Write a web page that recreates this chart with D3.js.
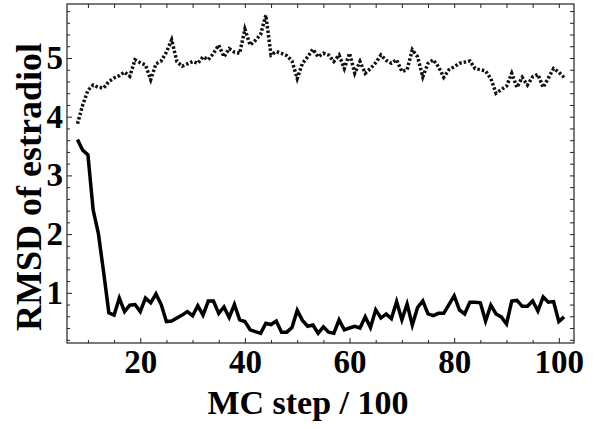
<!DOCTYPE html>
<html>
<head>
<meta charset="utf-8">
<script src="https://cdn.jsdelivr.net/npm/d3@7"></script>
<style>
  body { margin: 0; background: #fff; }
  text { font-family: "Liberation Serif", "Times New Roman", serif; font-weight: bold; }
</style>
</head>
<body>
<div class="chart"></div>
<script>
// MC steps (x / 100)
const steps = d3.range(8, 102);

// RMSD of the dotted series (upper curve)
const rmsdDotted = [
  3.88, 4.20, 4.45, 4.54, 4.50, 4.49, 4.60, 4.66, 4.70, 4.76,
  4.69, 4.97, 4.92, 4.88, 4.63, 4.90, 4.95, 5.10, 5.31, 4.94,
  4.86, 4.90, 4.94, 4.91, 5.02, 4.97, 5.08, 5.22, 5.02, 5.16,
  5.10, 5.08, 5.49, 5.22, 5.30, 5.40, 5.73, 5.05, 5.11, 5.08,
  5.04, 4.95, 4.65, 4.91, 5.02, 5.15, 5.02, 5.08, 5.05, 4.94,
  5.05, 4.82, 5.08, 4.74, 4.94, 4.74, 4.82, 4.92, 5.05, 4.96,
  4.91, 4.97, 4.77, 4.80, 5.14, 5.02, 4.68, 4.91, 4.97, 4.85,
  4.67, 4.80, 4.85, 4.91, 4.93, 4.95, 4.82, 4.80, 4.78, 4.65,
  4.40, 4.46, 4.52, 4.74, 4.50, 4.67, 4.54, 4.68, 4.72, 4.50,
  4.66, 4.82, 4.76, 4.67
];

// RMSD of the solid series (lower curve)
const rmsdSolid = [
  3.61, 3.43, 3.35, 2.41, 2.01, 1.35, 0.66, 0.62, 0.91, 0.68,
  0.79, 0.80, 0.68, 0.91, 0.83, 0.98, 0.80, 0.51, 0.52, 0.57,
  0.62, 0.68, 0.61, 0.78, 0.62, 0.86, 0.86, 0.65, 0.76, 0.58,
  0.80, 0.54, 0.51, 0.37, 0.34, 0.31, 0.48, 0.46, 0.52, 0.33,
  0.33, 0.41, 0.70, 0.53, 0.43, 0.45, 0.31, 0.42, 0.33, 0.31,
  0.54, 0.37, 0.40, 0.43, 0.40, 0.59, 0.41, 0.71, 0.57, 0.64,
  0.56, 0.85, 0.54, 0.81, 0.45, 0.75, 0.86, 0.64, 0.61, 0.65,
  0.65, 0.80, 0.95, 0.71, 0.64, 0.84, 0.84, 0.83, 0.52, 0.79,
  0.64, 0.59, 0.47, 0.86, 0.87, 0.77, 0.77, 0.86, 0.69, 0.93,
  0.84, 0.85, 0.51, 0.59
];

// tick labels
const xTicks = [20, 40, 60, 80, 100];
const yTicks = [1, 2, 3, 4, 5];

const width = 601, height = 429;
const plotLeft = 67, plotRight = 574, plotTop = 4, plotBottom = 343;

const svg = d3.select(".chart")
    .append("svg")
    .attr("width", width)
    .attr("height", height);

// scales
const xScale = d3.scaleLinear().domain([6.0, 102.9]).range([plotLeft, plotRight]);
const yScale = d3.scaleLinear().domain([0.145, 5.92]).range([plotBottom, plotTop]);

const xMinor = d3.range(10, 101, 5).filter(d => !xTicks.includes(d));
const yMinor = d3.range(2, 59, 2).map(d => d / 10).filter(d => !yTicks.includes(d));

// inward ticks on all four sides
function addAxis(axisFn, scale, values, size, transform, labels, pad) {
    const g = svg.append("g")
        .attr("transform", transform)
        .call(axisFn(scale).tickValues(values).tickSize(-size).tickPadding(pad)
            .tickFormat(labels ? d3.format("d") : ""));
    g.select(".domain").remove();
    g.selectAll(".tick line").attr("stroke", "#222").attr("stroke-width", 1);
    g.selectAll("text").attr("font-size", 33).attr("fill", "#000");
    return g;
}

addAxis(d3.axisBottom, xScale, xMinor, 3, `translate(0,${plotBottom})`, false, 6);
addAxis(d3.axisBottom, xScale, xTicks, 5, `translate(0,${plotBottom})`, true, 7);
addAxis(d3.axisTop, xScale, xMinor.concat(xTicks), 4, `translate(0,${plotTop})`, false, 0);
addAxis(d3.axisLeft, yScale, yMinor, 3, `translate(${plotLeft},0)`, false, 4);
addAxis(d3.axisLeft, yScale, yTicks, 5, `translate(${plotLeft},0)`, true, 4);
addAxis(d3.axisRight, yScale, yMinor.concat(yTicks), 4, `translate(${plotRight},0)`, false, 0);

// frame
svg.append("rect")
    .attr("x", plotLeft)
    .attr("y", plotTop)
    .attr("width", plotRight - plotLeft)
    .attr("height", plotBottom - plotTop)
    .attr("fill", "none")
    .attr("stroke", "#222")
    .attr("stroke-width", 1.2);

const line = d3.line()
    .x(d => xScale(d[0]))
    .y(d => yScale(d[1]));

// dotted curve
svg.append("path")
    .attr("fill", "none")
    .attr("stroke", "#111")
    .attr("stroke-width", 3.5)
    .attr("stroke-dasharray", "2.5,2")
    .attr("d", line(steps.map((s, i) => [s, rmsdDotted[i]])));

// solid curve
svg.append("path")
    .attr("fill", "none")
    .attr("stroke", "#000")
    .attr("stroke-width", 3.5)
    .attr("d", line(steps.map((s, i) => [s, rmsdSolid[i]])));

// axis labels
svg.append("text")
    .attr("x", 308)
    .attr("y", 414)
    .attr("text-anchor", "middle")
    .attr("font-size", 34)
    .text("MC step / 100");

svg.append("text")
    .attr("transform", "translate(41,187) rotate(-90)")
    .attr("text-anchor", "middle")
    .attr("font-size", 36)
    .text("RMSD of estradiol");
</script>
</body>
</html>
